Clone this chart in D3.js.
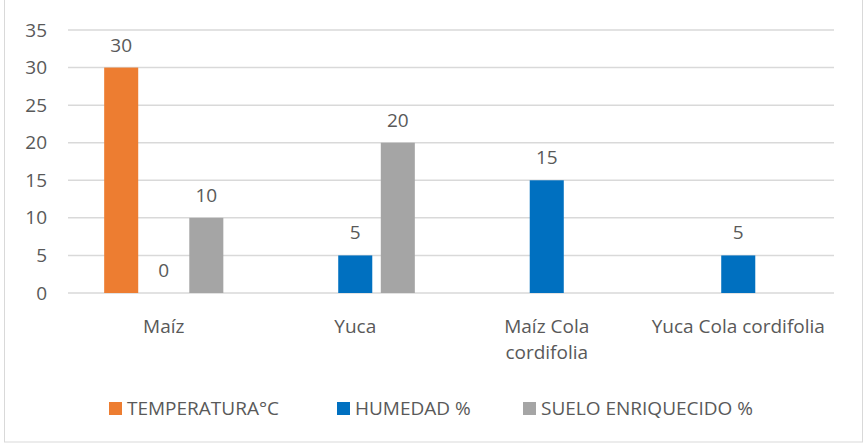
<!DOCTYPE html>
<html>
<head>
<meta charset="utf-8">
<script src="https://cdn.jsdelivr.net/npm/d3@7"></script>
<style>
body { margin: 0; background: #fff; }
text { font-family: "Open Sans", "Liberation Sans", sans-serif; fill: #595959; }
</style>
</head>
<body>
<script>
// data
var categories = ["Maíz", "Yuca", "Maíz Cola cordifolia", "Yuca Cola cordifolia"];
var tickLines = [["Maíz"], ["Yuca"], ["Maíz Cola", "cordifolia"], ["Yuca Cola cordifolia"]];
var seriesNames = ["TEMPERATURA°C", "HUMEDAD %", "SUELO ENRIQUECIDO %"];
var temperatura = [30, null, null, null];
var humedad = [0, 5, 15, 5];
var suelo = [10, 20, null, null];
var yTicks = [0, 5, 10, 15, 20, 25, 30, 35];
var colors = ["#ED7D31", "#0070C0", "#A5A5A5"];

var width = 865;
var height = 445;
var fontSize = "19px";

var svg = d3.select("body").append("svg")
            .attr("width", width)
            .attr("height", height);

// chart border
svg.append("rect")
   .attr("x", 4.5).attr("y", -1)
   .attr("width", 858).attr("height", 443)
   .attr("fill", "none")
   .attr("stroke", "#D9D9D9");

var plotLeft = 68, plotRight = 834, plotTop = 30, plotBottom = 293;

var x0 = d3.scaleBand().domain(categories).range([plotLeft, plotRight]);
var x1 = d3.scaleBand().domain(seriesNames)
           .range([0, x0.bandwidth()])
           .paddingInner(0.2).paddingOuter(0.85);
var y = d3.scaleLinear().domain([0, 35]).range([plotBottom, plotTop]);

// gridlines
svg.append("g").selectAll("line")
   .data(yTicks)
   .enter().append("line")
   .attr("x1", plotLeft).attr("x2", plotRight)
   .attr("y1", function (d) { return y(d); })
   .attr("y2", function (d) { return y(d); })
   .attr("stroke", "#D9D9D9")
   .attr("stroke-width", 1.5);

// y axis labels
var yAxis = d3.axisLeft(y).tickValues(yTicks).tickSize(0).tickPadding(0);
var yg = svg.append("g").attr("transform", "translate(47,0)").call(yAxis);
yg.select(".domain").remove();
yg.selectAll("text").style("font-size", fontSize).attr("fill", "#595959")
  .style("font-family", "'Open Sans', sans-serif");

// bars
var allSeries = [temperatura, humedad, suelo];
var rows = [];
categories.forEach(function (c, i) {
    seriesNames.forEach(function (s, j) {
        if (allSeries[j][i] !== null) {
            rows.push({ cat: c, series: s, value: allSeries[j][i], color: colors[j] });
        }
    });
});

svg.selectAll(".bar")
   .data(rows)
   .enter().append("rect")
   .attr("class", "bar")
   .attr("x", function (d) { return x0(d.cat) + x1(d.series); })
   .attr("y", function (d) { return y(d.value); })
   .attr("width", x1.bandwidth())
   .attr("height", function (d) { return y(0) - y(d.value); })
   .attr("fill", function (d) { return d.color; });

svg.selectAll(".bartext")
   .data(rows)
   .enter().append("text")
   .attr("class", "bartext")
   .attr("x", function (d) { return x0(d.cat) + x1(d.series) + x1.bandwidth() / 2; })
   .attr("y", function (d) { return y(d.value) - 16; })
   .attr("text-anchor", "middle")
   .style("font-size", fontSize)
   .text(function (d) { return d.value; });

// category labels
var cat = svg.selectAll(".catlabel")
   .data(categories)
   .enter().append("text")
   .attr("class", "catlabel")
   .attr("text-anchor", "middle")
   .attr("x", function (d) { return x0(d) + x0.bandwidth() / 2; })
   .attr("y", 333)
   .style("font-size", fontSize);
cat.each(function (d, i) {
    var t = d3.select(this);
    tickLines[i].forEach(function (line, k) {
        t.append("tspan")
         .attr("x", x0(d) + x0.bandwidth() / 2)
         .attr("dy", k === 0 ? 0 : 26)
         .text(line);
    });
});

// legend
var legendX = [109, 337, 523];
var legend = svg.selectAll(".legend")
   .data(seriesNames)
   .enter().append("g")
   .attr("class", "legend")
   .attr("transform", function (d, i) { return "translate(" + legendX[i] + ",402)"; });
legend.append("rect")
      .attr("width", 13).attr("height", 13)
      .attr("fill", function (d, i) { return colors[i]; });
legend.append("text")
      .attr("x", 18).attr("y", 13)
      .style("font-size", fontSize)
      .text(function (d) { return d; });
</script>
</body>
</html>
